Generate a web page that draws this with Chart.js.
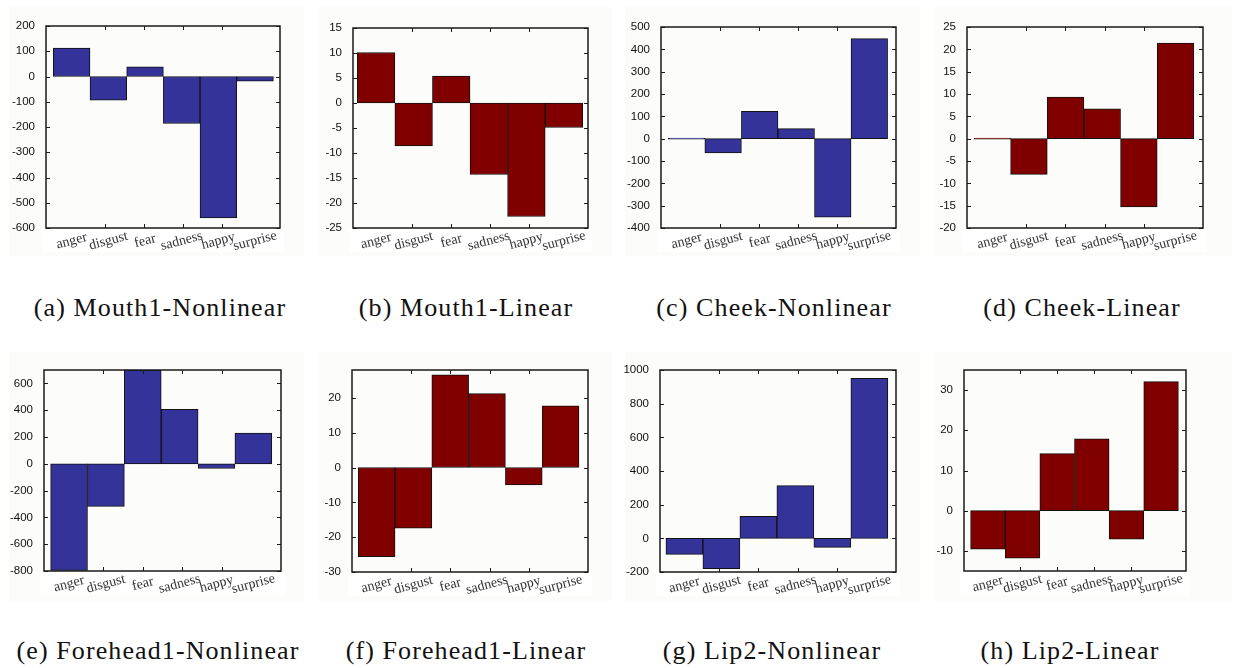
<!DOCTYPE html>
<html>
<head>
<meta charset="utf-8">
<script src="https://cdn.jsdelivr.net/npm/chart.js@4.4.1/dist/chart.umd.min.js"></script>
<style>
  body { margin: 0; background: #ffffff; width: 1236px; height: 668px; position: relative; overflow: hidden; }
  .panel { position: absolute; }
  .caption {
    position: absolute; width: 320px; text-align: center;
    font-family: "Liberation Serif", "DejaVu Serif", serif; font-size: 26px;
    letter-spacing: 1.1px; color: #111; line-height: 30px; white-space: nowrap;
  }
</style>
</head>
<body>
<div id="root"></div>
<script>
const categories = ["anger", "disgust", "fear", "sadness", "happy", "surprise"];

const mouth1Nonlinear = [113, -94, 38, -186, -560, -18];
const mouth1Linear = [10.1, -8.6, 5.4, -14.3, -22.7, -4.9];
const cheekNonlinear = [0, -64, 122, 45, -352, 448];
const cheekLinear = [0, -8, 9.3, 6.7, -15.3, 21.4];
const forehead1Nonlinear = [-795, -318, 700, 407, -35, 229];
const forehead1Linear = [-25.6, -17.4, 26.6, 21.2, -5.0, 17.7];
const lip2Nonlinear = [-95, -180, 131, 313, -54, 950];
const lip2Linear = [-9.6, -11.8, 14.2, 17.9, -7.1, 32.1];

// y axis: [min, max, step]
const yMouth1Nonlinear = [-600, 200, 100];
const yMouth1Linear = [-25, 15, 5];
const yCheekNonlinear = [-400, 500, 100];
const yCheekLinear = [-20, 25, 5];
const yForehead1Nonlinear = [-800, 700, 200];
const yForehead1Linear = [-30, 28, 10];
const yLip2Nonlinear = [-200, 1000, 200];
const yLip2Linear = [-15, 35, 10];

const captions = ["(a) Mouth1-Nonlinear", "(b) Mouth1-Linear", "(c) Cheek-Nonlinear", "(d) Cheek-Linear",
  "(e) Forehead1-Nonlinear", "(f) Forehead1-Linear", "(g) Lip2-Nonlinear", "(h) Lip2-Linear"];

const BLUE = "#333399";
const RED = "#800000";

// plot rectangles in page pixels: left, top, right, bottom; bar padding left/right in units
const panels = [
  { values: mouth1Nonlinear, y: yMouth1Nonlinear, color: BLUE, col: 0, row: 0, rect: [46, 26, 280, 228], pad: [0.2, 0.18], cx: 160 },
  { values: mouth1Linear, y: yMouth1Linear, color: RED, col: 1, row: 0, rect: [353, 28, 588, 228], pad: [0.115, 0.14], cx: 466 },
  { values: cheekNonlinear, y: yCheekNonlinear, color: BLUE, col: 2, row: 0, rect: [661, 27, 896, 228], pad: [0.2, 0.23], cx: 774 },
  { values: cheekLinear, y: yCheekLinear, color: RED, col: 3, row: 0, rect: [967, 27, 1203, 228], pad: [0.19, 0.25], cx: 1082 },
  { values: forehead1Nonlinear, y: yForehead1Nonlinear, color: BLUE, col: 0, row: 1, rect: [44, 370, 281, 571], pad: [0.18, 0.25], cx: 158 },
  { values: forehead1Linear, y: yForehead1Linear, color: RED, col: 1, row: 1, rect: [352, 370, 588, 572], pad: [0.17, 0.245], cx: 466 },
  { values: lip2Nonlinear, y: yLip2Nonlinear, color: BLUE, col: 2, row: 1, rect: [660, 370, 896, 572], pad: [0.16, 0.22], cx: 772 },
  { values: lip2Linear, y: yLip2Linear, color: RED, col: 3, row: 1, rect: [964, 370, 1186, 571], pad: [0.19, 0.22], cx: 1070 },
];

const colX = [0, 308, 616, 924];
const colW = [308, 308, 308, 312];
const rowY = [0, 345];
const rowH = 258;
const captionY = [293, 636];

const framePlugin = {
  id: "frame",
  beforeDraw(chart) {
    const ctx = chart.ctx;
    const a = chart.chartArea;
    ctx.save();
    ctx.fillStyle = "#fcfcfa";
    ctx.fillRect(9, 7, chart.width - 13, 249);
    ctx.fillStyle = "#ffffff";
    ctx.fillRect(a.left - 4, a.bottom + 1, a.right - a.left + 8, 23);
    ctx.fillStyle = "#fcfcfa";
    ctx.fillRect(a.left, a.top, a.right - a.left, a.bottom - a.top);
    ctx.restore();
  },
  afterDraw(chart) {
    const ctx = chart.ctx;
    const a = chart.chartArea;
    const ys = chart.scales.y;
    const xt = chart.scales.xt;
    const xs = chart.scales.x;
    ctx.save();
    ctx.strokeStyle = "#1a1a1a";
    ctx.lineWidth = 1.5;
    ctx.strokeRect(a.left, a.top, a.right - a.left, a.bottom - a.top);
    ctx.lineWidth = 1;
    ctx.beginPath();
    ys.ticks.forEach((t) => {
      const py = Math.round(ys.getPixelForValue(t.value)) + 0.5;
      ctx.moveTo(a.left, py); ctx.lineTo(a.left + 4, py);
      ctx.moveTo(a.right, py); ctx.lineTo(a.right - 4, py);
    });
    [1, 2, 3, 4].forEach((v) => {
      const px = Math.round(xt.getPixelForValue(v)) + 0.5;
      ctx.moveTo(px, a.top); ctx.lineTo(px, a.top + 4);
      ctx.moveTo(px, a.bottom); ctx.lineTo(px, a.bottom - 4);
    });
    ctx.stroke();

    ctx.fillStyle = "#333";
    ctx.font = '14px "Liberation Serif", "DejaVu Serif", serif';
    ctx.textAlign = "center";
    ctx.textBaseline = "middle";
    categories.forEach((c, i) => {
      const px = xs.getPixelForValue(i + 1);
      ctx.save();
      ctx.translate(px, a.bottom + 13);
      ctx.rotate(-15 * Math.PI / 180);
      ctx.fillText(c, 0, 0);
      ctx.restore();
    });
    ctx.restore();
  },
};

const root = document.getElementById("root");

panels.forEach((p, idx) => {
  const x0 = colX[p.col];
  const y0 = rowY[p.row];
  const w = colW[p.col];
  const [L, T, R, B] = p.rect;
  const [yMin, yMax, yStep] = p.y;

  const div = document.createElement("div");
  div.className = "panel";
  div.style.left = x0 + "px";
  div.style.top = y0 + "px";
  div.style.width = w + "px";
  div.style.height = rowH + "px";
  const canvas = document.createElement("canvas");
  canvas.width = w;
  canvas.height = rowH;
  div.appendChild(canvas);
  root.appendChild(div);

  const cap = document.createElement("div");
  cap.className = "caption";
  cap.textContent = captions[idx];
  cap.style.left = (p.cx - 160) + "px";
  cap.style.top = captionY[p.row] + "px";
  root.appendChild(cap);

  new Chart(canvas.getContext("2d"), {
    type: "bar",
    data: {
      datasets: [
        {
          data: p.values.map((v, i) => ({ x: i + 1, y: v })),
          backgroundColor: p.color,
          borderColor: "#111111",
          borderWidth: 1,
          borderSkipped: false,
          barPercentage: 1,
          categoryPercentage: 1,
          minBarLength: 1,
        },
      ],
    },
    options: {
      responsive: false,
      animation: false,
      events: [],
      layout: {
        padding: { left: 0, top: T - y0, right: x0 + w - R, bottom: y0 + rowH - B },
      },
      plugins: { legend: { display: false }, tooltip: { enabled: false } },
      scales: {
        x: {
          type: "linear",
          display: false,
          offset: false,
          min: 0.5 - p.pad[0],
          max: 6.5 + p.pad[1],
        },
        xt: {
          type: "linear",
          axis: "x",
          position: "bottom",
          display: false,
          min: 0,
          max: 5,
        },
        y: {
          min: yMin,
          max: yMax,
          border: { display: false },
          grid: { display: false },
          ticks: {
            stepSize: yStep,
            padding: 3,
            color: "#111111",
            font: { family: '"Liberation Sans", Arial, sans-serif', size: 11.5 },
            callback: (v) => String(v),
          },
          afterBuildTicks(scale) {
            const ticks = [];
            for (let v = Math.ceil(yMin / yStep) * yStep; v <= yMax + 1e-9; v += yStep) {
              ticks.push({ value: v });
            }
            scale.ticks = ticks;
          },
          afterFit(scale) {
            scale.width = L - x0;
          },
        },
      },
    },
    plugins: [framePlugin],
  });
});
</script>
</body>
</html>
